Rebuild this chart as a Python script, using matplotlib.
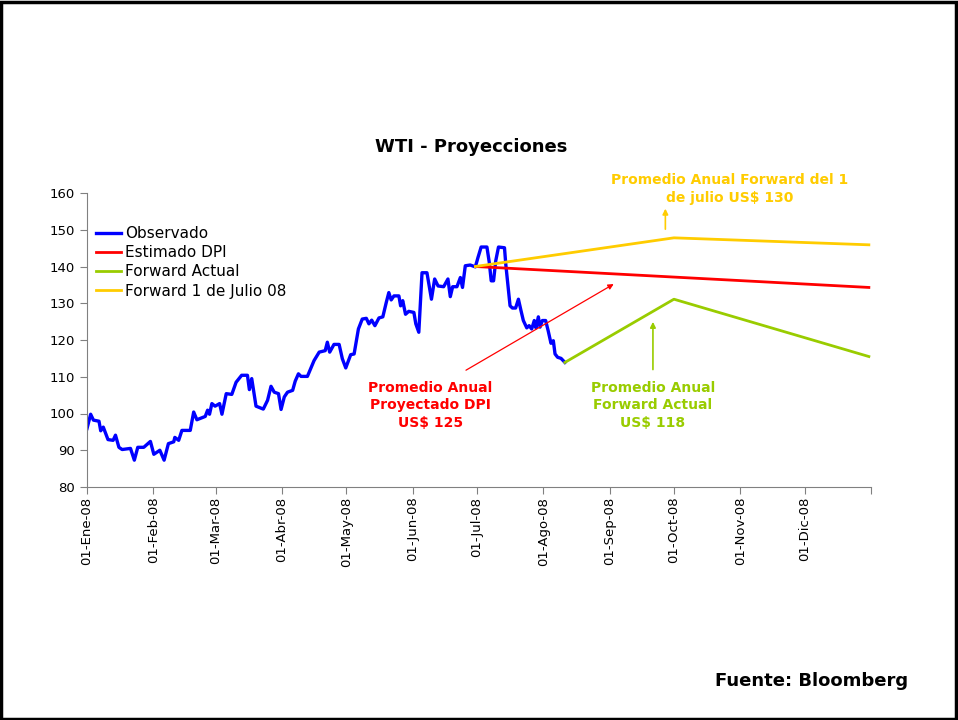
import matplotlib
matplotlib.use('Agg')
import matplotlib.pyplot as plt
import matplotlib.dates as mdates
from matplotlib.patches import Rectangle
import numpy as np
from datetime import datetime

# datos (dias desde 01-Ene-08, precio US$)
obs_day = [0, 1.7, 3, 5.6, 6.4, 7.6, 9.8, 12.2, 13.3, 14.9, 16.4, 20.3, 22.1, 23.7,
           26.5, 29.6, 31.2, 34, 36, 38, 40.5, 41, 42.8, 44.3, 48.2, 49.8, 51.3,
           55.2, 56.3, 57.2, 58.3, 59.8, 61.9, 63, 65, 67.6, 69.6, 72.2, 74.9, 75.8,
           76.9, 78.9, 82.3, 84.3, 85.9, 87.4, 89.4, 90.6, 92.1, 93.6, 96, 97.2,
           98.7, 99.9, 102.9, 106, 108.4, 111.2, 112.2, 113.3, 115.3, 117.7, 119.2,
           120.8, 123.1, 124.7, 126.7, 128.5, 130.4, 131.6, 132.9, 134.4, 136.3,
           138.1, 139.7, 140.9, 142, 143.3, 145.6, 146.4, 147.4, 148.7, 150.2, 152.6,
           153.5, 154.9, 156.4, 158.7, 160.8, 162.3, 163.9, 166.5, 168.5, 169.6,
           170.7, 172.7, 174.3, 175.3, 176.6, 178.9, 181.3, 182.5, 184, 186.7, 187.8,
           188.7, 189.8, 190.8, 192.1, 194.9, 195.5, 196.7, 197.5, 198.6, 200.1,
           201.4, 202.6, 203.7, 205.3, 206.4, 207.6, 208.8, 209.6, 210.7, 211.5,
           212.6, 214.1, 215.3, 216.6, 217.7, 218.5, 219.7, 221.3, 223.1]
obs_val = [95.9, 99.8, 98.2, 97.9, 95.3, 96.3, 92.9, 92.7, 94.1, 90.8, 90.2, 90.5, 87.3, 90.8,
           90.8, 92.4, 88.9, 90.0, 87.3, 91.8, 92.3, 93.5, 92.7, 95.4, 95.4, 100.4, 98.3,
           99.2, 100.9, 99.8, 102.7, 102.0, 102.7, 99.8, 105.4, 105.2, 108.5, 110.4, 110.4, 106.5,
           109.5, 102.0, 101.2, 103.6, 107.4, 105.8, 105.4, 101.1, 104.5, 105.8, 106.3, 108.8,
           110.8, 110.1, 110.1, 114.4, 116.7, 117.1, 119.4, 116.7, 118.8, 118.8, 114.9,
           112.4, 116.0, 116.2, 123.0, 125.7, 125.9, 124.4, 125.4, 123.9, 126.0,
           126.3, 130.2, 132.9, 130.9, 132.0, 132.0, 129.3, 130.7, 127.0, 127.8, 127.5,
           124.4, 122.1, 138.3, 138.3, 131.1, 136.6, 134.7, 134.5, 136.6, 131.8,
           134.5, 134.5, 137.0, 134.3, 140.2, 140.4, 139.9, 142.4, 145.3, 145.3, 141.1,
           136.1, 136.1, 141.5, 145.3, 145.1, 140.6, 133.8, 129.3, 128.7, 128.7,
           131.1, 128.0, 125.3, 123.3, 123.9, 123.0, 125.3, 123.3, 126.3, 123.5,
           125.3, 125.3, 122.5, 119.1, 119.8, 116.2, 115.3, 115.0, 113.9]

dpi_day = [181.3, 365]
dpi_val = [140.0, 134.3]

fwd_act_day = [223.1, 274, 365]
fwd_act_val = [113.9, 131.1, 115.5]

fwd_jul_day = [181.3, 274, 365]
fwd_jul_val = [140.0, 147.8, 145.9]

month_labels = ['01-Ene-08', '01-Feb-08', '01-Mar-08', '01-Abr-08', '01-May-08', '01-Jun-08',
                '01-Jul-08', '01-Ago-08', '01-Sep-08', '01-Oct-08', '01-Nov-08', '01-Dic-08']

t0 = mdates.date2num(datetime(2008, 1, 1))
def d(days):
    return t0 + np.asarray(days, dtype=float)

fig = plt.figure(figsize=(9.58, 7.2), dpi=100)
ax = fig.add_axes([87/958, 1-487/720, 784/958, 294/720])

ax.plot(d(obs_day), obs_val, color='#0000FF', lw=2.4, label='Observado')
ax.plot(d(dpi_day), dpi_val, color='#FF0000', lw=2.0, label='Estimado DPI')
ax.plot(d(fwd_act_day), fwd_act_val, color='#99CC00', lw=2.0, label='Forward Actual')
ax.plot(d(fwd_jul_day), fwd_jul_val, color='#FFCC00', lw=2.0, label='Forward 1 de Julio 08')

ax.set_ylim(80, 160)
ax.set_yticks(range(80, 161, 10))
ax.set_xlim(t0, mdates.date2num(datetime(2009, 1, 1)))
ticks = [mdates.date2num(datetime(2008, m, 1)) for m in range(1, 13)] + [mdates.date2num(datetime(2009, 1, 1))]
ax.set_xticks(ticks)
ax.set_xticklabels(month_labels + [''], rotation=90, fontsize=9.5)
ax.tick_params(axis='y', labelsize=9.5, length=5, color='#808080')
ax.tick_params(axis='x', length=5, color='#808080', pad=2)

for s in ['top', 'right']:
    ax.spines[s].set_visible(False)
for s in ['left', 'bottom']:
    ax.spines[s].set_color('#808080')

ax.legend(loc='upper left', bbox_to_anchor=(0.012, 0.888), frameon=False, fontsize=11,
          handlelength=1.6, handletextpad=0.3, labelspacing=0.28, borderpad=0, borderaxespad=0)

# anotaciones
ax.text(d(300), 161.2, 'Promedio Anual Forward del 1\nde julio US$ 130', color='#FFCC00',
        fontsize=10, fontweight='bold', ha='center', va='center', linespacing=1.35)
ax.annotate('', xy=(d(270), 156.5), xytext=(d(270), 149.4),
            arrowprops=dict(arrowstyle='-|>', color='#FFCC00', lw=1.2, mutation_scale=8))

ax.text(d(160.2), 102.2, 'Promedio Anual\nProyectado DPI\nUS$ 125', color='#FF0000',
        fontsize=10, fontweight='bold', ha='center', va='center', linespacing=1.35)
ax.annotate('', xy=(d(247), 135.6), xytext=(d(175.8), 111.4),
            arrowprops=dict(arrowstyle='-|>', color='#FF0000', lw=0.9, mutation_scale=8))

ax.text(d(264.2), 102.2, 'Promedio Anual\nForward Actual\nUS$ 118', color='#99CC00',
        fontsize=10, fontweight='bold', ha='center', va='center', linespacing=1.35)
ax.annotate('', xy=(d(264.2), 125.7), xytext=(d(264.2), 111.2),
            arrowprops=dict(arrowstyle='-|>', color='#99CC00', lw=1.2, mutation_scale=8))

fig.text(471/958, 1-147/720, 'WTI - Proyecciones', fontsize=13, fontweight='bold',
         ha='center', va='center')
fig.text(908/958, 1-681/720, 'Fuente: Bloomberg', fontsize=13, fontweight='bold',
         ha='right', va='center')

fig.patches.append(Rectangle((0.001, 0.001), 0.997, 0.996, transform=fig.transFigure,
                             fill=False, edgecolor='black', linewidth=2.5))

fig.savefig('out.png', dpi=100)
